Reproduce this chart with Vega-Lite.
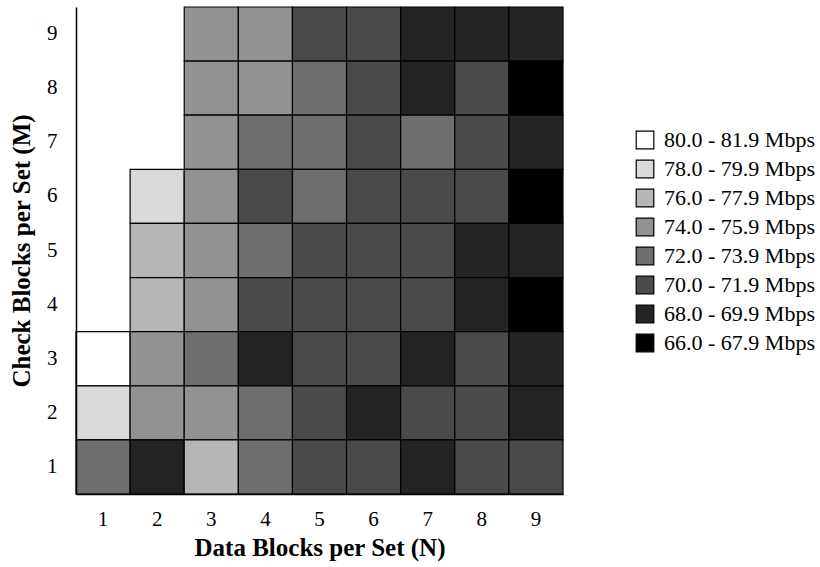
{
  "$schema": "https://vega.github.io/schema/vega-lite/v6.json",
  "width": 487,
  "height": 487,
  "autosize": "none",
  "padding": {"left": 76, "top": 7, "right": 257, "bottom": 73},
  "background": "white",
  "data": {"values": [
    {"N": 3, "M": 9, "rate": "74.0 - 75.9 Mbps"},
    {"N": 4, "M": 9, "rate": "74.0 - 75.9 Mbps"},
    {"N": 5, "M": 9, "rate": "70.0 - 71.9 Mbps"},
    {"N": 6, "M": 9, "rate": "70.0 - 71.9 Mbps"},
    {"N": 7, "M": 9, "rate": "68.0 - 69.9 Mbps"},
    {"N": 8, "M": 9, "rate": "68.0 - 69.9 Mbps"},
    {"N": 9, "M": 9, "rate": "68.0 - 69.9 Mbps"},
    {"N": 3, "M": 8, "rate": "74.0 - 75.9 Mbps"},
    {"N": 4, "M": 8, "rate": "74.0 - 75.9 Mbps"},
    {"N": 5, "M": 8, "rate": "72.0 - 73.9 Mbps"},
    {"N": 6, "M": 8, "rate": "70.0 - 71.9 Mbps"},
    {"N": 7, "M": 8, "rate": "68.0 - 69.9 Mbps"},
    {"N": 8, "M": 8, "rate": "70.0 - 71.9 Mbps"},
    {"N": 9, "M": 8, "rate": "66.0 - 67.9 Mbps"},
    {"N": 3, "M": 7, "rate": "74.0 - 75.9 Mbps"},
    {"N": 4, "M": 7, "rate": "72.0 - 73.9 Mbps"},
    {"N": 5, "M": 7, "rate": "72.0 - 73.9 Mbps"},
    {"N": 6, "M": 7, "rate": "70.0 - 71.9 Mbps"},
    {"N": 7, "M": 7, "rate": "72.0 - 73.9 Mbps"},
    {"N": 8, "M": 7, "rate": "70.0 - 71.9 Mbps"},
    {"N": 9, "M": 7, "rate": "68.0 - 69.9 Mbps"},
    {"N": 2, "M": 6, "rate": "78.0 - 79.9 Mbps"},
    {"N": 3, "M": 6, "rate": "74.0 - 75.9 Mbps"},
    {"N": 4, "M": 6, "rate": "70.0 - 71.9 Mbps"},
    {"N": 5, "M": 6, "rate": "72.0 - 73.9 Mbps"},
    {"N": 6, "M": 6, "rate": "70.0 - 71.9 Mbps"},
    {"N": 7, "M": 6, "rate": "70.0 - 71.9 Mbps"},
    {"N": 8, "M": 6, "rate": "70.0 - 71.9 Mbps"},
    {"N": 9, "M": 6, "rate": "66.0 - 67.9 Mbps"},
    {"N": 2, "M": 5, "rate": "76.0 - 77.9 Mbps"},
    {"N": 3, "M": 5, "rate": "74.0 - 75.9 Mbps"},
    {"N": 4, "M": 5, "rate": "72.0 - 73.9 Mbps"},
    {"N": 5, "M": 5, "rate": "70.0 - 71.9 Mbps"},
    {"N": 6, "M": 5, "rate": "70.0 - 71.9 Mbps"},
    {"N": 7, "M": 5, "rate": "70.0 - 71.9 Mbps"},
    {"N": 8, "M": 5, "rate": "68.0 - 69.9 Mbps"},
    {"N": 9, "M": 5, "rate": "68.0 - 69.9 Mbps"},
    {"N": 2, "M": 4, "rate": "76.0 - 77.9 Mbps"},
    {"N": 3, "M": 4, "rate": "74.0 - 75.9 Mbps"},
    {"N": 4, "M": 4, "rate": "70.0 - 71.9 Mbps"},
    {"N": 5, "M": 4, "rate": "70.0 - 71.9 Mbps"},
    {"N": 6, "M": 4, "rate": "70.0 - 71.9 Mbps"},
    {"N": 7, "M": 4, "rate": "70.0 - 71.9 Mbps"},
    {"N": 8, "M": 4, "rate": "68.0 - 69.9 Mbps"},
    {"N": 9, "M": 4, "rate": "66.0 - 67.9 Mbps"},
    {"N": 1, "M": 3, "rate": "80.0 - 81.9 Mbps"},
    {"N": 2, "M": 3, "rate": "74.0 - 75.9 Mbps"},
    {"N": 3, "M": 3, "rate": "72.0 - 73.9 Mbps"},
    {"N": 4, "M": 3, "rate": "68.0 - 69.9 Mbps"},
    {"N": 5, "M": 3, "rate": "70.0 - 71.9 Mbps"},
    {"N": 6, "M": 3, "rate": "70.0 - 71.9 Mbps"},
    {"N": 7, "M": 3, "rate": "68.0 - 69.9 Mbps"},
    {"N": 8, "M": 3, "rate": "70.0 - 71.9 Mbps"},
    {"N": 9, "M": 3, "rate": "68.0 - 69.9 Mbps"},
    {"N": 1, "M": 2, "rate": "78.0 - 79.9 Mbps"},
    {"N": 2, "M": 2, "rate": "74.0 - 75.9 Mbps"},
    {"N": 3, "M": 2, "rate": "74.0 - 75.9 Mbps"},
    {"N": 4, "M": 2, "rate": "72.0 - 73.9 Mbps"},
    {"N": 5, "M": 2, "rate": "70.0 - 71.9 Mbps"},
    {"N": 6, "M": 2, "rate": "68.0 - 69.9 Mbps"},
    {"N": 7, "M": 2, "rate": "70.0 - 71.9 Mbps"},
    {"N": 8, "M": 2, "rate": "70.0 - 71.9 Mbps"},
    {"N": 9, "M": 2, "rate": "68.0 - 69.9 Mbps"},
    {"N": 1, "M": 1, "rate": "72.0 - 73.9 Mbps"},
    {"N": 2, "M": 1, "rate": "68.0 - 69.9 Mbps"},
    {"N": 3, "M": 1, "rate": "76.0 - 77.9 Mbps"},
    {"N": 4, "M": 1, "rate": "72.0 - 73.9 Mbps"},
    {"N": 5, "M": 1, "rate": "70.0 - 71.9 Mbps"},
    {"N": 6, "M": 1, "rate": "70.0 - 71.9 Mbps"},
    {"N": 7, "M": 1, "rate": "68.0 - 69.9 Mbps"},
    {"N": 8, "M": 1, "rate": "70.0 - 71.9 Mbps"},
    {"N": 9, "M": 1, "rate": "70.0 - 71.9 Mbps"}
  ]},
  "mark": {"type": "rect", "stroke": "black", "strokeWidth": 1.2},
  "encoding": {
    "x": {
      "field": "N", "type": "ordinal",
      "scale": {"domain": [1, 2, 3, 4, 5, 6, 7, 8, 9], "paddingInner": 0, "paddingOuter": 0},
      "axis": {
        "title": "Data Blocks per Set (N)",
        "labelAngle": 0, "ticks": false, "domain": true, "domainColor": "black", "domainWidth": 1.5,
        "labelPadding": 14, "labelFont": "Liberation Serif", "labelFontSize": 21, "labelColor": "black",
        "titleFont": "Liberation Serif", "titleFontSize": 25, "titleFontWeight": "bold", "titleColor": "black",
        "titlePadding": 6
      }
    },
    "y": {
      "field": "M", "type": "ordinal",
      "scale": {"domain": [9, 8, 7, 6, 5, 4, 3, 2, 1], "paddingInner": 0, "paddingOuter": 0},
      "axis": {
        "title": "Check Blocks per Set (M)",
        "ticks": false, "domain": true, "domainColor": "black", "domainWidth": 1.5,
        "labelPadding": 19, "labelFont": "Liberation Serif", "labelFontSize": 21, "labelColor": "black",
        "titleFont": "Liberation Serif", "titleFontSize": 25, "titleFontWeight": "bold", "titleColor": "black",
        "titlePadding": 12
      }
    },
    "color": {
      "field": "rate", "type": "nominal",
      "scale": {
        "domain": ["80.0 - 81.9 Mbps", "78.0 - 79.9 Mbps", "76.0 - 77.9 Mbps", "74.0 - 75.9 Mbps", "72.0 - 73.9 Mbps", "70.0 - 71.9 Mbps", "68.0 - 69.9 Mbps", "66.0 - 67.9 Mbps"],
        "range": ["#ffffff", "#dadada", "#b6b6b6", "#929292", "#6e6e6e", "#4a4a4a", "#242424", "#000000"]
      },
      "legend": {
        "title": null, "orient": "none", "legendX": 558, "legendY": 122,
        "symbolType": "square", "symbolSize": 310, "symbolStrokeColor": "black", "symbolStrokeWidth": 1.2,
        "symbolOpacity": 1,
        "labelFont": "Liberation Serif", "labelFontSize": 22, "labelColor": "black", "labelOffset": 8,
        "rowPadding": 5, "padding": 0, "labelLimit": 300
      }
    }
  },
  "config": {"view": {"stroke": null}}
}
